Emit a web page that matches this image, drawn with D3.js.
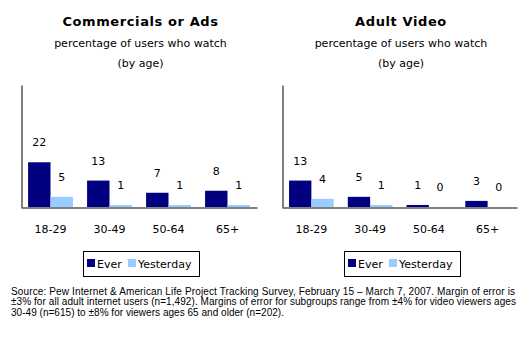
<!DOCTYPE html>
<html>
<head>
<meta charset="utf-8">
<script src="https://cdn.jsdelivr.net/npm/d3@7"></script>
<style>
  html, body { margin: 0; padding: 0; background: #fff; }
  svg text { font-family: "DejaVu Sans", Verdana, sans-serif; fill: #000; }
</style>
</head>
<body>
<svg id="chart" width="530" height="340"></svg>
<script>
// Age groups shown on both panels
const ageGroups = ["18-29", "30-49", "50-64", "65+"];
const seriesNames = ["Ever", "Yesterday"];

// Commercials or Ads (% of users who watch)
const adsEver = [22, 13, 7, 8];
const adsYesterday = [5, 1, 1, 1];

// Adult Video (% of users who watch)
const adultEver = [13, 5, 1, 3];
const adultYesterday = [4, 1, 0, 0];

const panelTitles = ["Commercials or Ads", "Adult Video"];
const subtitleLines = ["percentage of users who watch", "(by age)"];
const sourceLines = [
  "Source:  Pew Internet & American Life Project Tracking Survey, February 15 \u2013 March 7, 2007.  Margin of error is",
  "\u00b13% for all adult internet users (n=1,492). Margins of error for subgroups range from \u00b14% for video viewers ages",
  "30-49 (n=615) to \u00b18% for viewers ages 65 and older (n=202)."
];
const sourceWidths = [504, 505, 273];

const colors = { Ever: "#000080", Yesterday: "#99ccff" };

const svg = d3.select("#chart");

const yTop = 85, yBase = 207;
const y = d3.scaleLinear().domain([0, 60]).range([yBase, yTop]);

function drawPanel(left, right, title, ever, yesterday) {
  const g = svg.append("g");
  const cx = (left + right) / 2 + 1.5;

  g.append("text")
    .attr("x", cx).attr("y", 26)
    .attr("text-anchor", "middle")
    .style("font-size", "13px").style("font-weight", "bold")
    .style("letter-spacing", "0.6px")
    .text(title);

  subtitleLines.forEach((s, i) => {
    g.append("text")
      .attr("x", cx).attr("y", 47 + i * 20)
      .attr("text-anchor", "middle")
      .style("font-size", "11px")
      .text(s);
  });

  const x0 = d3.scaleBand().domain(ageGroups).range([left, right]);
  const x1 = d3.scaleBand().domain(seriesNames)
    .range([x0.bandwidth() * 0.12, x0.bandwidth() * 0.88]);

  const rows = ageGroups.map((a, i) => ({ age: a, Ever: ever[i], Yesterday: yesterday[i] }));

  const groups = g.selectAll("g.grp").data(rows).join("g")
    .attr("class", "grp")
    .attr("transform", d => `translate(${x0(d.age)},0)`);

  const cells = groups.selectAll("g.cell")
    .data(d => seriesNames.map(k => ({ key: k, value: d[k] })))
    .join("g").attr("class", "cell");

  cells.append("rect")
    .attr("x", d => x1(d.key))
    .attr("y", d => y(d.value))
    .attr("width", x1.bandwidth())
    .attr("height", d => yBase - y(d.value))
    .attr("fill", d => colors[d.key]);

  cells.append("text")
    .attr("x", d => x1(d.key) + x1.bandwidth() / 2)
    .attr("y", d => y(d.value) - 16)
    .attr("text-anchor", "middle")
    .style("font-size", "11px")
    .text(d => d.value);

  // Axes
  const xAxis = d3.axisBottom(x0).tickSize(0).tickSizeOuter(0).tickPadding(18);
  const gx = g.append("g").attr("transform", `translate(0,${yBase + 0.5})`).call(xAxis);
  gx.select(".domain").attr("stroke", "#000");
  gx.selectAll("text").style("font-size", "11px").attr("fill", "#000");

  const yAxis = d3.axisLeft(y).tickValues([]).tickSizeOuter(0);
  const gy = g.append("g").attr("transform", `translate(${left + 0.5},0)`).call(yAxis);
  gy.select(".domain").attr("stroke", "#000");

  // Legend
  const lx = left + 62, ly = 251;
  const lg = g.append("g").attr("transform", `translate(${lx},${ly})`);
  lg.append("rect").attr("x", 0.5).attr("y", 0.5).attr("width", 116).attr("height", 25)
    .attr("fill", "#fff").attr("stroke", "#000");
  const items = [{ key: "Ever", sx: 4, tx: 14 }, { key: "Yesterday", sx: 45, tx: 55 }];
  items.forEach(it => {
    lg.append("rect").attr("x", it.sx).attr("y", 8).attr("width", 8).attr("height", 8)
      .attr("fill", colors[it.key]);
    lg.append("text").attr("x", it.tx).attr("y", 16.5)
      .style("font-size", "11px").text(it.key);
  });
}

drawPanel(21, 257, panelTitles[0], adsEver, adsYesterday);
drawPanel(282, 517, panelTitles[1], adultEver, adultYesterday);

sourceLines.forEach((s, i) => {
  svg.append("text")
    .attr("x", 11).attr("y", 294.5 + i * 10.6)
    .attr("textLength", sourceWidths[i])
    .attr("lengthAdjust", "spacing")
    .style("font-family", "'Liberation Sans', Arial, sans-serif")
    .style("font-size", "10px")
    .text(s);
});
</script>
</body>
</html>
